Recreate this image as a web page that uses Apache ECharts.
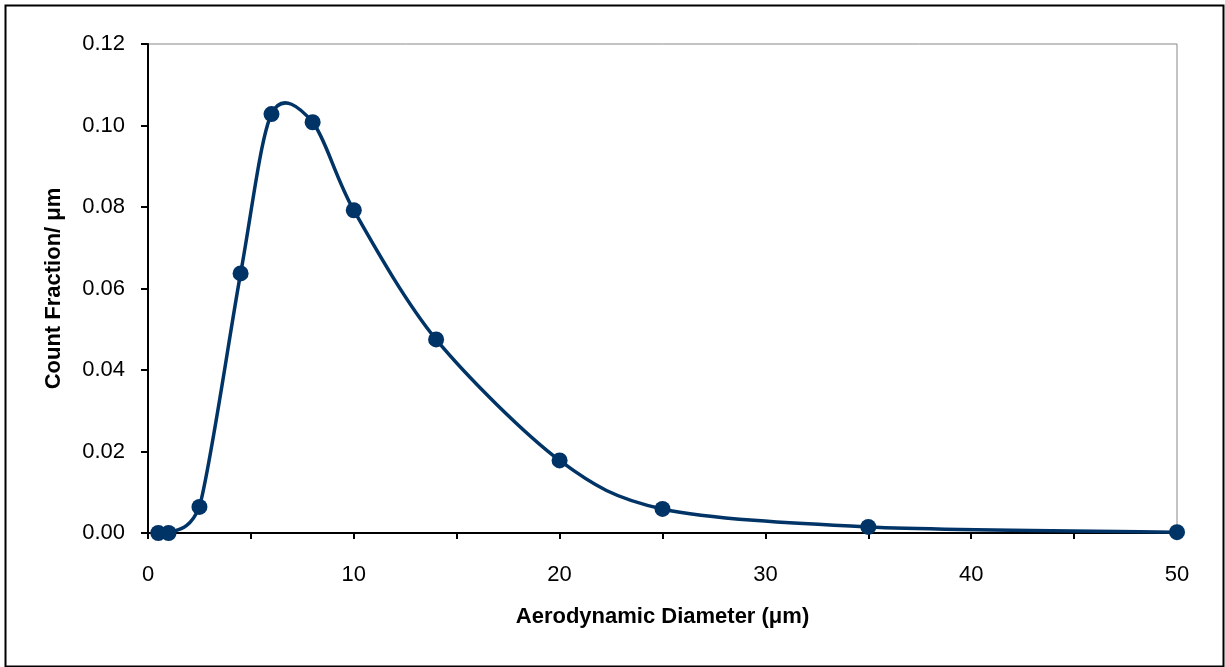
<!DOCTYPE html>
<html>
<head>
<meta charset="utf-8">
<script src="https://cdn.jsdelivr.net/npm/echarts@6/dist/echarts.min.js"></script>
<style>
html,body{margin:0;padding:0;background:#fff;}
#chart{width:1225px;height:667px;}
</style>
</head>
<body>
<div id="chart"></div>
<script>
const diameters = [0.5, 1, 2.5, 4.5, 6, 8, 10, 14, 20, 25, 35, 50];
const countFraction = [0.0000, 0.0000, 0.0064, 0.0637, 0.1028, 0.1008, 0.0792, 0.0475, 0.0178, 0.0059, 0.0015, 0.0002];
const xTitle = 'Aerodynamic Diameter (\u03bcm)';
const yTitle = 'Count Fraction/ \u03bcm';

const data = diameters.map((d, i) => [d, countFraction[i]]);
const color = '#003366';
const chart = echarts.init(document.getElementById('chart'), null, {renderer: 'canvas'});
const font = '"Liberation Sans", Arial, sans-serif';

// Smooth curve (Catmull-Rom style Bezier, like a spreadsheet smoothed line),
// each segment computed from data through the axis scale (api.coord).
function renderSegment(params, api) {
  const i = params.dataIndex;
  const n = data.length;
  if (i >= n - 1) return null;
  const P = k => api.coord(data[Math.max(0, Math.min(n - 1, k))]);
  const p0 = P(i - 1), p1 = P(i), p2 = P(i + 1), p3 = P(i + 2);
  const base = api.coord([0, 0])[1];
  const t = 0.15;
  const cp1 = [p1[0] + (p2[0] - p0[0]) * t, Math.min(base, p1[1] + (p2[1] - p0[1]) * t)];
  const cp2 = [p2[0] - (p3[0] - p1[0]) * t, Math.min(base, p2[1] - (p3[1] - p1[1]) * t)];
  return {
    type: 'bezierCurve',
    shape: {x1: p1[0], y1: p1[1], x2: p2[0], y2: p2[1],
            cpx1: cp1[0], cpy1: cp1[1], cpx2: cp2[0], cpy2: cp2[1]},
    style: {stroke: color, fill: null, lineWidth: 3.5, lineCap: 'round'}
  };
}

chart.setOption({
  animation: false,
  backgroundColor: '#fff',
  graphic: [{
    type: 'rect', left: 3, top: 3, z: -1,
    shape: {width: 1218, height: 661},
    style: {fill: 'none', stroke: '#000', lineWidth: 2}
  }],
  grid: {left: 148, right: 48, top: 44, bottom: 134, show: true, borderColor: '#888', borderWidth: 1},
  xAxis: {
    type: 'value', min: 0, max: 50, interval: 10,
    name: xTitle, nameLocation: 'middle', nameGap: 73,
    nameTextStyle: {fontFamily: font, fontSize: 22, fontWeight: 'bold', color: '#000'},
    axisLine: {show: true, onZero: false, lineStyle: {color: '#000', width: 2}},
    axisTick: {show: true, length: 6, lineStyle: {color: '#000', width: 2}},
    minorTick: {show: true, splitNumber: 2, length: 6, lineStyle: {color: '#000', width: 2}},
    axisLabel: {fontFamily: font, fontSize: 22, color: '#000', margin: 31},
    splitLine: {show: false}
  },
  yAxis: {
    type: 'value', min: 0, max: 0.12, interval: 0.02,
    name: yTitle, nameLocation: 'middle', nameGap: 83,
    nameTextStyle: {fontFamily: font, fontSize: 22, fontWeight: 'bold', color: '#000'},
    axisLine: {show: true, lineStyle: {color: '#000', width: 2}},
    axisTick: {show: true, length: 7, lineStyle: {color: '#000', width: 2}},
    axisLabel: {fontFamily: font, fontSize: 22, color: '#000', margin: 23,
      formatter: v => v.toFixed(2)},
    splitLine: {show: false}
  },
  series: [{
    type: 'custom', data: data, renderItem: renderSegment,
    clip: false, z: 4, silent: true
  }, {
    type: 'scatter', data: data,
    symbol: 'circle', symbolSize: 16,
    itemStyle: {color: color, opacity: 1},
    z: 5
  }]
});
</script>
</body>
</html>
